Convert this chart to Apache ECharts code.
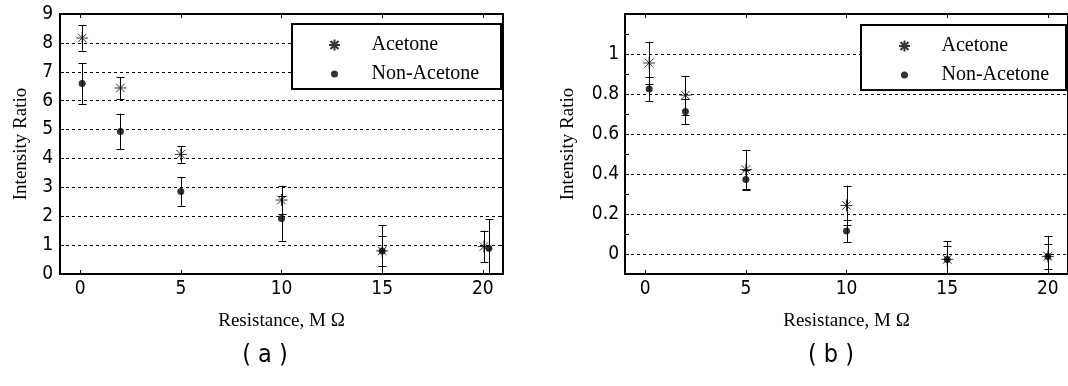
<!DOCTYPE html>
<html><head><meta charset="utf-8">
<script src="https://cdn.jsdelivr.net/npm/echarts@6/dist/echarts.min.js"></script>
<style>html,body{margin:0;padding:0;background:#fff}#c{width:1068px;height:386px}</style>
</head><body><div id="c"></div>
<script>
// ---------- data ----------
const seriesNames = ['Acetone', 'Non-Acetone'];
const xTitle = 'Resistance, M Ω';
const yTitle = 'Intensity Ratio';
const panelLabels = ['( a )', '( b )'];

// panel (a)
const aAcetoneX   = [0.1, 2, 5, 10, 15, 20.05];
const aAcetoneY   = [8.17, 6.44, 4.14, 2.56, 0.80, 0.95];
const aAcetoneErr = [0.44, 0.38, 0.29, 0.50, 0.90, 0.55];
const aNonX       = [0.1, 2, 5, 10, 15, 20.3];
const aNonY       = [6.59, 4.93, 2.86, 1.92, 0.80, 0.89];
const aNonErr     = [0.70, 0.62, 0.50, 0.77, 0.52, 1.00];

// panel (b)
const bAcetoneX   = [0.2, 2, 5, 10, 15, 20];
const bAcetoneY   = [0.955, 0.794, 0.422, 0.243, -0.027, -0.012];
const bAcetoneErr = [0.107, 0.097, 0.099, 0.099, 0.092, 0.102];
const bNonX       = [0.2, 2, 5, 10, 15, 20];
const bNonY       = [0.825, 0.712, 0.372, 0.115, -0.027, -0.013];
const bNonErr     = [0.060, 0.064, 0.050, 0.056, 0.069, 0.062];

// ticks
const xTicks   = [0, 5, 10, 15, 20];
const bYTicks  = [0, 0.1, 0.2, 0.3, 0.4, 0.5, 0.6, 0.7, 0.8, 0.9, 1, 1.1];
const bYLabels = [0, 0.2, 0.4, 0.6, 0.8, 1];

// ---------- styling ----------
const TICK_FONT = "'Liberation Sans Narrow','DejaVu Sans Condensed','Arial Narrow',sans-serif";
const SERIF = "'Liberation Serif','Times New Roman',serif";
const starPath = 'path://M0,-1L0,1M-1,0L1,0M-0.72,-0.72L0.72,0.72M-0.72,0.72L0.72,-0.72';
const dotLegendPath = 'path://M0,0L0,0M1,1L1,1M0.5,0.18A0.32,0.32,0,1,1,0.5,0.82A0.32,0.32,0,1,1,0.5,0.18Z';

const chart = echarts.init(document.getElementById('c'), null, {renderer: 'canvas', width: 1068, height: 386});

function zip3(xs, ys, es) { return xs.map((x, i) => [x, ys[i], es[i]]); }
function zip2(xs, ys) { return xs.map((x, i) => [x, ys[i]]); }

function errRender(params, api) {
  const x = api.value(0), y = api.value(1), e = api.value(2);
  const cs = params.coordSys;
  const top = api.coord([x, y + e]);
  const bot = api.coord([x, y - e]);
  const yMin = cs.y, yMax = cs.y + cs.height;
  const half = 4;
  const st = {stroke: '#000', lineWidth: 1};
  const cx = Math.round(top[0]) + 0.5;
  const children = [{type: 'line', shape: {x1: cx, y1: Math.max(top[1], yMin), x2: cx, y2: Math.min(bot[1], yMax)}, style: st}];
  if (top[1] >= yMin) { const ty = Math.round(top[1]) + 0.5; children.push({type: 'line', shape: {x1: cx - half, y1: ty, x2: cx + half, y2: ty}, style: st}); }
  if (bot[1] <= yMax) { const by = Math.round(bot[1]) + 0.5; children.push({type: 'line', shape: {x1: cx - half, y1: by, x2: cx + half, y2: by}, style: st}); }
  return {type: 'group', children};
}

const axisLineStyle = {color: '#000', width: 2};
const tickStyle = {color: '#000', width: 1};
const dashed = {type: [3, 3], color: '#000', width: 1};

function xAxisPair(gi) {
  return [
    {gridIndex: gi, type: 'value', min: -1, max: 21, position: 'bottom',
     axisLine: {onZero: false, lineStyle: axisLineStyle},
     axisTick: {inside: true, length: 4, customValues: xTicks, lineStyle: tickStyle},
     axisLabel: {customValues: xTicks, color: '#000', fontFamily: TICK_FONT, fontSize: 19, margin: 6},
     splitLine: {show: false},
     name: xTitle, nameLocation: 'middle', nameGap: 38,
     nameTextStyle: {fontFamily: SERIF, fontSize: 19, color: '#000'}},
    {gridIndex: gi, type: 'value', min: -1, max: 21, position: 'top',
     axisLine: {onZero: false, lineStyle: axisLineStyle},
     axisTick: {inside: true, length: 4, customValues: xTicks, lineStyle: tickStyle},
     axisLabel: {show: false}, splitLine: {show: false}}
  ];
}

const option = {
  animation: false,
  backgroundColor: '#fff',
  grid: [
    {left: 60, top: 14, width: 443, height: 260},
    {left: 625, top: 14, width: 449, height: 260}
  ],
  xAxis: [...xAxisPair(0), ...xAxisPair(1)],
  yAxis: [
    {gridIndex: 0, type: 'value', min: 0, max: 9, interval: 1, position: 'left',
     axisLine: {onZero: false, lineStyle: axisLineStyle},
     axisTick: {inside: true, length: 4, lineStyle: tickStyle},
     axisLabel: {color: '#000', fontFamily: TICK_FONT, fontSize: 19, margin: 7},
     splitLine: {show: true, lineStyle: dashed},
     name: yTitle, nameLocation: 'middle', nameGap: 29,
     nameTextStyle: {fontFamily: SERIF, fontSize: 19, color: '#000'}},
    {gridIndex: 0, type: 'value', min: 0, max: 9, interval: 1, position: 'right',
     axisLine: {onZero: false, lineStyle: axisLineStyle},
     axisTick: {inside: true, length: 4, lineStyle: tickStyle},
     axisLabel: {show: false}, splitLine: {show: false}},
    {gridIndex: 1, type: 'value', min: -0.1, max: 1.2, position: 'left',
     axisLine: {onZero: false, lineStyle: axisLineStyle},
     axisTick: {inside: true, length: 4, customValues: bYTicks, lineStyle: tickStyle},
     axisLabel: {customValues: bYLabels, color: '#000', fontFamily: TICK_FONT, fontSize: 19, margin: 6,
                 formatter: v => String(Math.round(v * 10) / 10)},
     splitLine: {show: false},
     name: yTitle, nameLocation: 'middle', nameGap: 47,
     nameTextStyle: {fontFamily: SERIF, fontSize: 19, color: '#000'}},
    {gridIndex: 1, type: 'value', min: -0.1, max: 1.2, position: 'right',
     axisLine: {onZero: false, lineStyle: axisLineStyle},
     axisTick: {show: false, customValues: bYLabels},
     axisLabel: {show: false},
     splitLine: {show: true, lineStyle: dashed}}
  ],
  graphic: [
    {type: 'rect', z: 5, shape: {x: 292, y: 24, width: 209, height: 65}, style: {fill: '#fff', stroke: '#000', lineWidth: 2}},
    {type: 'rect', z: 5, shape: {x: 861, y: 25, width: 205, height: 65}, style: {fill: '#fff', stroke: '#000', lineWidth: 2}},
    {type: 'text', z: 5, x: 265, y: 355, style: {text: panelLabels[0], font: "25px 'Liberation Sans Narrow','DejaVu Sans Condensed',sans-serif", fill: '#000', textAlign: 'center', textVerticalAlign: 'middle'}},
    {type: 'text', z: 5, x: 831, y: 355, style: {text: panelLabels[1], font: "25px 'Liberation Sans Narrow','DejaVu Sans Condensed',sans-serif", fill: '#000', textAlign: 'center', textVerticalAlign: 'middle'}}
  ],
  legend: [
    {left: 328, top: 35, orient: 'vertical', z: 6, itemWidth: 64, itemHeight: 11, itemGap: 9, padding: 0,
     symbolKeepAspect: true,
     data: [{name: seriesNames[0], icon: starPath}, {name: seriesNames[1], icon: dotLegendPath}],
     textStyle: {fontFamily: SERIF, fontSize: 20, lineHeight: 20, color: '#000'}},
    {left: 898, top: 36, orient: 'vertical', z: 6, itemWidth: 64, itemHeight: 11, itemGap: 9, padding: 0,
     symbolKeepAspect: true,
     data: [{name: seriesNames[0], icon: starPath}, {name: seriesNames[1], icon: dotLegendPath}],
     textStyle: {fontFamily: SERIF, fontSize: 20, lineHeight: 20, color: '#000'}}
  ],
  series: [
    {name: seriesNames[0], type: 'scatter', xAxisIndex: 0, yAxisIndex: 0, symbol: starPath, symbolSize: 12, z: 3,
     itemStyle: {color: 'transparent', borderColor: '#000', borderWidth: 1}, data: zip2(aAcetoneX, aAcetoneY)},
    {name: seriesNames[1], type: 'scatter', xAxisIndex: 0, yAxisIndex: 0, symbol: 'circle', symbolSize: 7, z: 3,
     itemStyle: {color: '#000', borderWidth: 0}, data: zip2(aNonX, aNonY)},
    {name: seriesNames[0], type: 'scatter', xAxisIndex: 2, yAxisIndex: 2, symbol: starPath, symbolSize: 12, z: 3,
     itemStyle: {color: 'transparent', borderColor: '#000', borderWidth: 1}, data: zip2(bAcetoneX, bAcetoneY)},
    {name: seriesNames[1], type: 'scatter', xAxisIndex: 2, yAxisIndex: 2, symbol: 'circle', symbolSize: 7, z: 3,
     itemStyle: {color: '#000', borderWidth: 0}, data: zip2(bNonX, bNonY)},
    {name: 'Acetone error (a)', type: 'custom', xAxisIndex: 0, yAxisIndex: 0, z: 2, renderItem: errRender,
     encode: {x: 0, y: 1}, data: zip3(aAcetoneX, aAcetoneY, aAcetoneErr)},
    {name: 'Non-Acetone error (a)', type: 'custom', xAxisIndex: 0, yAxisIndex: 0, z: 2, renderItem: errRender,
     encode: {x: 0, y: 1}, data: zip3(aNonX, aNonY, aNonErr)},
    {name: 'Acetone error (b)', type: 'custom', xAxisIndex: 2, yAxisIndex: 2, z: 2, renderItem: errRender,
     encode: {x: 0, y: 1}, data: zip3(bAcetoneX, bAcetoneY, bAcetoneErr)},
    {name: 'Non-Acetone error (b)', type: 'custom', xAxisIndex: 2, yAxisIndex: 2, z: 2, renderItem: errRender,
     encode: {x: 0, y: 1}, data: zip3(bNonX, bNonY, bNonErr)}
  ]
};
chart.setOption(option);
</script>
</body></html>
